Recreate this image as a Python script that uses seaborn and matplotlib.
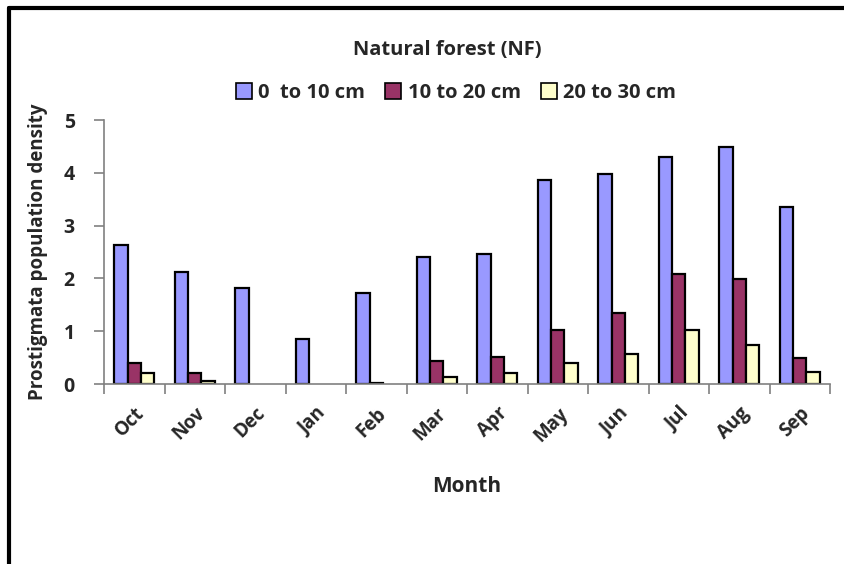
import matplotlib
matplotlib.use("Agg")
import matplotlib.pyplot as plt
import seaborn as sns
import pandas as pd
from matplotlib.patches import Patch
from matplotlib.lines import Line2D

months = ["Oct", "Nov", "Dec", "Jan", "Feb", "Mar", "Apr", "May", "Jun", "Jul", "Aug", "Sep"]
depth_0_10 = [2.64, 2.12, 1.82, 0.86, 1.72, 2.40, 2.47, 3.87, 3.97, 4.30, 4.48, 3.36]
depth_10_20 = [0.39, 0.21, 0.0, 0.0, 0.025, 0.43, 0.51, 1.03, 1.34, 2.08, 1.99, 0.49]
depth_20_30 = [0.21, 0.05, 0.0, 0.0, 0.0, 0.14, 0.21, 0.39, 0.57, 1.02, 0.73, 0.23]
series_names = ["0  to 10 cm", "10 to 20 cm", "20 to 30 cm"]
colors = ["#9999FF", "#993366", "#FFFFCC"]

rows = []
for name, vals in zip(series_names, [depth_0_10, depth_10_20, depth_20_30]):
    for m, v in zip(months, vals):
        rows.append({"Month": m, "Depth": name, "Density": v})
df = pd.DataFrame(rows)

sns.set_theme(style="white")
plt.rcParams["font.family"] = ["Open Sans", "DejaVu Sans"]

fig = plt.figure(figsize=(8.44, 5.64), dpi=100)
ax = fig.add_axes([104/844, 1-384/564, 726/844, 264/564])

sns.barplot(data=df, x="Month", y="Density", hue="Depth", order=months,
            hue_order=series_names, palette=colors, width=0.667,
            edgecolor="black", linewidth=1.6, saturation=1, ax=ax, legend=False)
for p in ax.patches:
    if p.get_height() == 0:
        p.set_linewidth(0)

ax.set_ylim(0, 5)
ax.set_xlim(-0.5, 11.5)
ax.set_yticks([0, 1, 2, 3, 4, 5])
ax.set_yticklabels(["0", "1", "2", "3", "4", "5"], fontsize=14, fontweight="bold")
for s in ["top", "right"]:
    ax.spines[s].set_visible(False)
for s in ["left", "bottom"]:
    ax.spines[s].set_color("#808080")
    ax.spines[s].set_linewidth(1.2)
ax.tick_params(axis="y", which="major", length=7, width=1.2, color="#808080", left=True, pad=14)
ax.set_xticks(range(12))
ax.set_xticklabels(months, rotation=45, ha="right", rotation_mode="anchor",
                   fontsize=13.5, fontweight="bold")
ax.tick_params(axis="x", which="major", length=0, pad=14)
ax.set_xticks([i - 0.5 for i in range(13)], minor=True)
ax.tick_params(axis="x", which="minor", length=7, width=1.2, color="#808080", bottom=True)

ax.set_xlabel("Month", fontsize=15, fontweight="bold", labelpad=22)
ax.set_ylabel("Prostigmata population density", fontsize=13.5, fontweight="bold", labelpad=11)

fig.text(447/844, 1-50/564, "Natural forest (NF)", ha="center", va="center",
         fontsize=14.5, fontweight="bold")

handles = [Patch(facecolor=c, edgecolor="black", linewidth=1.2) for c in colors]
leg = fig.legend(handles, series_names, loc="center", bbox_to_anchor=(456/844, 1-93/564),
                 ncol=3, frameon=False, handlelength=0.8, handleheight=0.8,
                 handletextpad=0.3, columnspacing=1.0,
                 prop={"size": 14.5, "weight": "bold"})

# outer frame (left and top)
fig.add_artist(Line2D([9/844, 9/844], [0, 1-8/564], transform=fig.transFigure,
                      color="black", linewidth=3))
fig.add_artist(Line2D([9/844, 1], [1-8/564, 1-8/564], transform=fig.transFigure,
                      color="black", linewidth=3))

fig.savefig("out.png", dpi=100)
